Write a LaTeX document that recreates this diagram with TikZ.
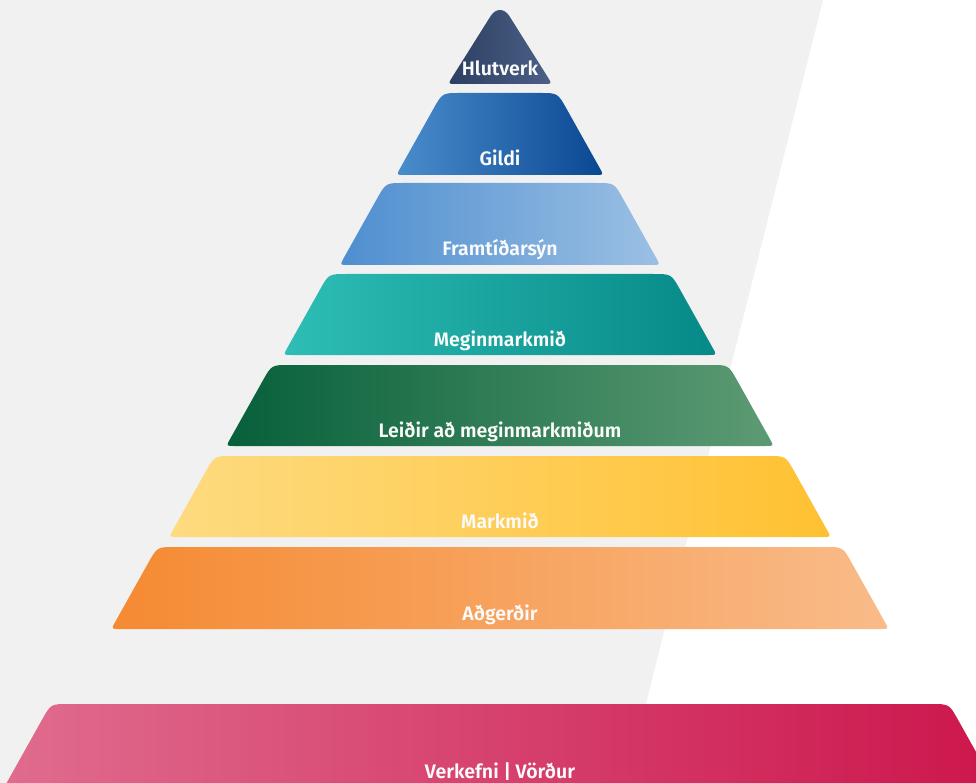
\documentclass[tikz,border=0pt]{standalone}
\usepackage{fontspec}
\setmainfont{Fira Sans}[BoldFont={Fira Sans SemiBold}]
\definecolor{bggray}{HTML}{F1F1F1}
\definecolor{hlA}{HTML}{2C3F62}
\definecolor{hlB}{HTML}{4C6187}
\definecolor{giA}{HTML}{4A8DCC}
\definecolor{giB}{HTML}{0A4792}
\definecolor{frA}{HTML}{4E8ECF}
\definecolor{frB}{HTML}{9CC0E4}
\definecolor{meA}{HTML}{2EBEB6}
\definecolor{meB}{HTML}{068987}
\definecolor{leA}{HTML}{06603A}
\definecolor{leB}{HTML}{5D9B74}
\definecolor{maA}{HTML}{FEDB80}
\definecolor{maB}{HTML}{FFC132}
\definecolor{adA}{HTML}{F58A32}
\definecolor{adB}{HTML}{F9BB89}
\definecolor{veA}{HTML}{E17192}
\definecolor{veB}{HTML}{CB1148}
\newcommand\pyrlayer[6]{%
  \pgfmathsetmacro\xbl{500-0.628*(#2-10)}%
  \pgfmathsetmacro\xtl{\xbl+0.56*(#2-#1)}%
  \pgfmathsetmacro\xtr{1000-\xtl}%
  \pgfmathsetmacro\xbr{1000-\xbl}%
  \shade[left color=#3, right color=#4] (\xbl+8,#2) .. controls (\xbl,#2) .. (\xbl+3.9,#2-7)
    -- (\xtl-8.8,#1+15.7) .. controls (\xtl,#1) .. (\xtl+18,#1)
    -- (\xtr-18,#1) .. controls (\xtr,#1) .. (\xtr+8.8,#1+15.7)
    -- (\xbr-3.9,#2-7) .. controls (\xbr,#2) .. (\xbr-8,#2) -- cycle;
  \node[lbl] (#5) at (500,#2-9) {#6};
}
\begin{document}
\begin{tikzpicture}[x=1pt,y=-1pt,
  lbl/.style={anchor=base, text=white!97!gray, font=\bfseries\fontsize{19.5}{22}\selectfont, inner sep=0pt}]
\useasboundingbox (0,0) rectangle (976,783);
\begin{scope}
\clip (0,0) rectangle (976,783);
\fill[white] (0,0) rectangle (976,783);
\fill[bggray] (0,0) -- (823,0) -- (626,783) -- (0,783) -- cycle;
% top triangle
\shade[left color=hlA, right color=hlB] (456,84) .. controls (448,84) .. (452.2,77.2)
  -- (490.5,16.3) .. controls (495.7,7.9) and (504.3,7.9) .. (509.5,16.3)
  -- (547.8,77.2) .. controls (552,84) .. (544,84) -- cycle;
\node[lbl] (hlutverk) at (500,76) {Hlutverk};
\pyrlayer{93}{175}{giA}{giB}{gildi}{Gildi}
\pyrlayer{183}{265}{frA}{frB}{framtid}{Framtíðarsýn}
\pyrlayer{274}{355}{meA}{meB}{meginmarkmid}{Meginmarkmið}
\pyrlayer{365}{446}{leA}{leB}{leidir}{Leiðir að meginmarkmiðum}
\pyrlayer{456}{537}{maA}{maB}{markmid}{Markmið}
\pyrlayer{547}{629}{adA}{adB}{adgerdir}{Aðgerðir}
\pyrlayer{704}{900}{veA}{veB}{verkefni-band}{}
\node[lbl] (verkefni) at (500,778) {Verkefni | Vörður};
\end{scope}
\end{tikzpicture}
\end{document}
